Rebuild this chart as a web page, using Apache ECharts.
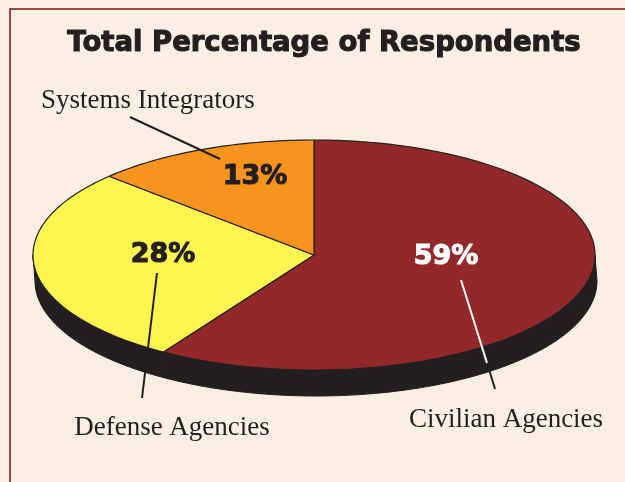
<!DOCTYPE html>
<html>
<head>
<meta charset="utf-8" />
<title>Total Percentage of Respondents</title>
<script src="https://cdn.jsdelivr.net/npm/echarts@6/dist/echarts.min.js"></script>
<style>
  html, body { margin: 0; padding: 0; background: #fbefe3; }
</style>
</head>
<body>
<div id="main" style="width: 625px;height:482px;"></div>
<script type="text/javascript">
// data, in clockwise order starting from 12 o'clock
var names = ['Civilian Agencies', 'Defense Agencies', 'Systems Integrators'];
var shares = [59, 28, 13];
var colors = ['#93282a', '#fff550', '#f7941e'];

// tilted pie geometry
var CX = 314, CY = 255, RX = 281, RY = 115, DEPTH = 26, SHIFT = 2;

var total = shares.reduce(function (a, b) { return a + b; }, 0);
var seriesData = [];
var acc = 0;
shares.forEach(function (v, i) {
  seriesData.push({ name: names[i], value: [v, acc / total * 360, (acc + v) / total * 360] });
  acc += v;
});

function pt(deg, dx, dy) {
  var r = deg * Math.PI / 180;
  return [CX + RX * Math.sin(r) + dx, CY - RY * Math.cos(r) + dy];
}

function arc(a0, a1, dx, dy) {
  var out = [];
  var n = Math.max(2, Math.ceil(a1 - a0));
  for (var k = 0; k <= n; k++) {
    out.push(pt(a0 + (a1 - a0) * k / n, dx, dy));
  }
  return out;
}

function renderItem(params, api) {
  var i = params.dataIndex;
  var a0 = api.value(1), a1 = api.value(2);
  var children = [];
  // side wall (only the front half is visible)
  var s0 = Math.max(a0, 90), s1 = Math.min(a1, 270);
  if (s1 > s0) {
    var top = arc(s0, s1, 0, 0);
    var bottom = arc(s0, s1, SHIFT, DEPTH).reverse();
    children.push({
      type: 'polygon',
      shape: { points: top.concat(bottom) },
      style: { fill: '#231f20', stroke: '#231f20', lineWidth: 1 }
    });
  }
  children.push({
    type: 'polygon',
    shape: { points: [[CX, CY]].concat(arc(a0, a1, 0, 0)) },
    style: { fill: colors[i], stroke: '#231f20', lineWidth: 1.2, lineJoin: 'round' }
  });
  return { type: 'group', children: children };
}

// label layout (percent labels and their callouts)
var pctPos = [[446, 257], [163, 255], [255, 177]];
var pctColor = ['#ffffff', '#231f20', '#231f20'];
var namePos = [[506, 420, 'center'], [172, 428, 'center'], [41, 101, 'left']];

var myChart = echarts.init(document.getElementById('main'));

var graphics = [
  {
    type: 'rect', z: 0,
    shape: { x: 10, y: 9, width: 640, height: 500 },
    style: { fill: '#fbefe3', stroke: '#7e1517', lineWidth: 1.5 }
  },
  {
    type: 'text', z: 10,
    style: {
      x: 324, y: 44, text: 'Total Percentage of Respondents',
      font: 'bold 27.5px "DejaVu Sans"', fill: '#231f20',
      stroke: '#231f20', lineWidth: 1.1,
      align: 'center', verticalAlign: 'middle'
    }
  },
  // callout lines
  { type: 'polyline', z: 5, shape: { points: [[130, 117], [220, 159]] }, style: { stroke: '#231f20', lineWidth: 2 } },
  { type: 'polyline', z: 5, shape: { points: [[157, 273], [142, 398]] }, style: { stroke: '#231f20', lineWidth: 2 } },
  { type: 'polyline', z: 5, shape: { points: [[487, 363], [495, 389]] }, style: { stroke: '#231f20', lineWidth: 2 } },
  { type: 'polyline', z: 6, shape: { points: [[461, 280], [487, 363]] }, style: { stroke: '#ffffff', lineWidth: 2 } }
];

shares.forEach(function (v, i) {
  graphics.push({
    type: 'text', z: 10,
    style: {
      x: pctPos[i][0], y: pctPos[i][1], text: v + '%',
      font: 'bold 27px "DejaVu Sans"', fill: pctColor[i],
      stroke: pctColor[i], lineWidth: 1.1,
      align: 'center', verticalAlign: 'middle'
    }
  });
  graphics.push({
    type: 'text', z: 10,
    style: {
      x: namePos[i][0], y: namePos[i][1], text: names[i],
      font: '27px "Liberation Serif"', fill: '#231f20',
      align: namePos[i][2], verticalAlign: 'middle'
    }
  });
});

var option = {
  backgroundColor: '#fbefe3',
  animation: false,
  graphic: { elements: graphics },
  series: [
    {
      type: 'custom',
      coordinateSystem: 'none',
      renderItem: renderItem,
      data: seriesData,
      z: 2
    }
  ]
};

myChart.setOption(option);
</script>
</body>
</html>
